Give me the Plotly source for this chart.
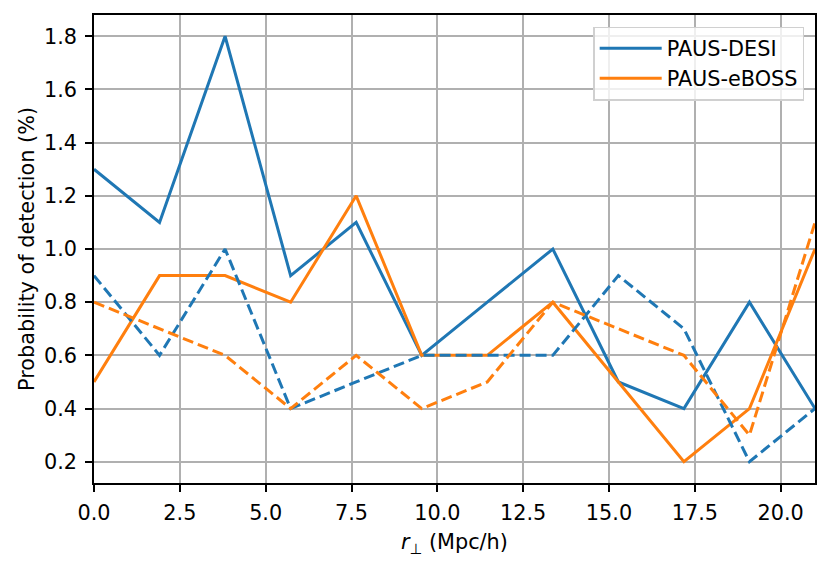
import plotly.graph_objects as go

# r_perp bins (12 points evenly spaced from 0 to 21)
r_perp = [0.0, 1.909, 3.818, 5.727, 7.636, 9.545, 11.455, 13.364, 15.273, 17.182, 19.091, 21.0]

desi_solid = [1.3, 1.1, 1.8, 0.9, 1.1, 0.6, 0.8, 1.0, 0.5, 0.4, 0.8, 0.4]
desi_dashed = [0.9, 0.6, 1.0, 0.4, 0.5, 0.6, 0.6, 0.6, 0.9, 0.7, 0.2, 0.4]
eboss_solid = [0.5, 0.9, 0.9, 0.8, 1.2, 0.6, 0.6, 0.8, 0.5, 0.2, 0.4, 1.0]
eboss_dashed = [0.8, 0.7, 0.6, 0.4, 0.6, 0.4, 0.5, 0.8, 0.7, 0.6, 0.3, 1.1]

x_ticks = [0, 2.5, 5, 7.5, 10, 12.5, 15, 17.5, 20]
y_ticks = [0.2, 0.4, 0.6, 0.8, 1.0, 1.2, 1.4, 1.6, 1.8]

BLUE = "#1f77b4"
ORANGE = "#ff7f0e"
FONT = "DejaVu Sans, Liberation Sans, sans-serif"
FS = 20.8
LW = 3
DASH = "11px,5px"

fig = go.Figure()
fig.add_trace(go.Scatter(x=r_perp, y=desi_solid, mode="lines", name="PAUS-DESI",
                         line=dict(color=BLUE, width=LW)))
fig.add_trace(go.Scatter(x=r_perp, y=eboss_solid, mode="lines", name="PAUS-eBOSS",
                         line=dict(color=ORANGE, width=LW)))
fig.add_trace(go.Scatter(x=r_perp, y=desi_dashed, mode="lines", showlegend=False,
                         line=dict(color=BLUE, width=LW, dash=DASH)))
fig.add_trace(go.Scatter(x=r_perp, y=eboss_dashed, mode="lines", showlegend=False,
                         line=dict(color=ORANGE, width=LW, dash=DASH)))

axis_common = dict(
    showgrid=True, gridcolor="#b0b0b0", gridwidth=1.6,
    showline=True, linecolor="black", linewidth=1.6, mirror=True,
    ticks="outside", ticklen=7, tickwidth=1.6, tickcolor="black",
    tickfont=dict(size=FS, color="black", family=FONT),
    zeroline=False, automargin=False,
)

fig.update_xaxes(range=[0, 21], tickvals=x_ticks, tickformat=".1f", ticklabelstandoff=3,
                 title=dict(text="<i>r</i><sub>⊥</sub> (Mpc/h)",
                            font=dict(size=FS, color="black", family=FONT), standoff=11),
                 **axis_common)
fig.update_yaxes(range=[0.12, 1.88], tickvals=y_ticks, tickformat=".1f", ticklabelstandoff=4,
                 title=dict(text="Probability of detection (%)",
                            font=dict(size=FS, color="black", family=FONT), standoff=4),
                 **axis_common)

# page body has an 8px margin, so the figure is drawn 8px in from the corner
fig.update_layout(
    width=822, height=559,
    margin=dict(l=86, r=15, t=7, b=84),
    plot_bgcolor="white", paper_bgcolor="white",
    font=dict(family=FONT, size=FS, color="black"),
    legend=dict(x=0.985, y=0.975, xanchor="right", yanchor="top",
                bgcolor="rgba(255,255,255,0.8)", bordercolor="#d0d0d0", borderwidth=1.5,
                itemwidth=62, tracegroupgap=2,
                font=dict(size=FS, color="black", family=FONT)),
)

fig.write_html("out.html")
